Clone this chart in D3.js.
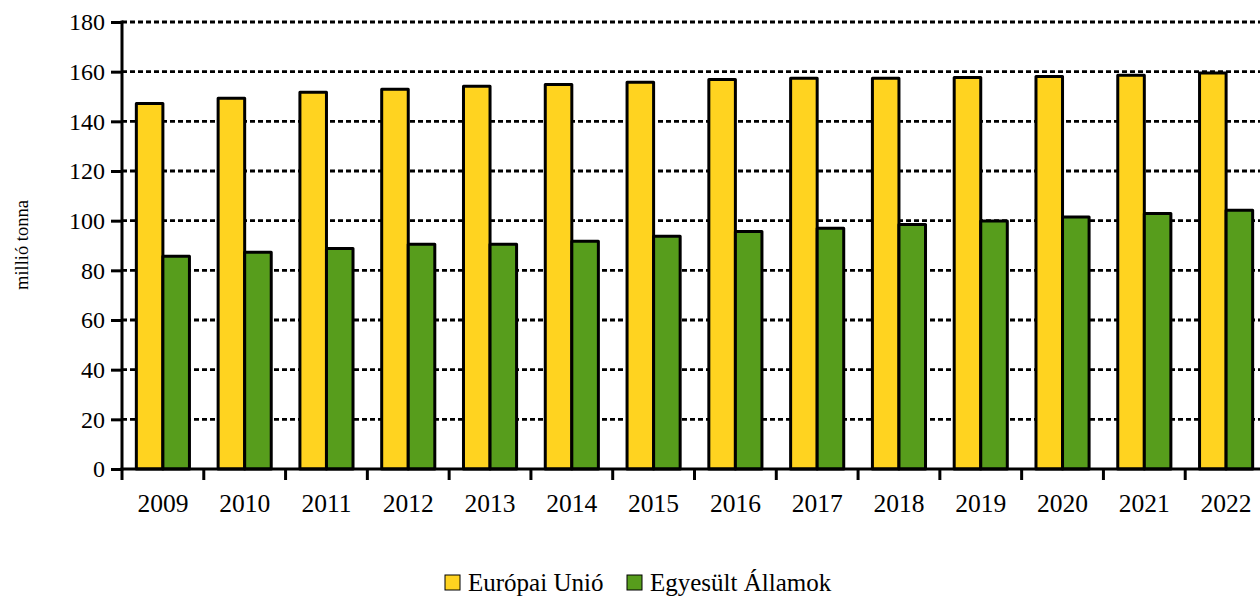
<!DOCTYPE html>
<html>
<head>
<meta charset="utf-8">
<script src="https://cdn.jsdelivr.net/npm/d3@7"></script>
<style>
  body { margin: 0; background: #fff; }
  text { font-family: "Liberation Serif", "Times New Roman", serif; fill: #000; }
</style>
</head>
<body>
<div id="chart"></div>
<script>
var years = [2009, 2010, 2011, 2012, 2013, 2014, 2015, 2016, 2017, 2018, 2019, 2020, 2021, 2022];
var seriesNames = ["Európai Unió", "Egyesült Államok"];
var euValues = [147.2, 149.3, 151.7, 152.9, 154.1, 154.8, 155.7, 156.8, 157.3, 157.3, 157.7, 158.1, 158.6, 159.5];
var usValues = [85.7, 87.3, 88.8, 90.5, 90.5, 91.7, 93.7, 95.6, 96.9, 98.5, 99.9, 101.5, 102.9, 104.2];
var yTicks = [0, 20, 40, 60, 80, 100, 120, 140, 160, 180];
var colors = ["#ffd320", "#579d1c"];

var svgWidth = 1260;
var svgHeight = 598;
var margin = {top: 22, left: 122};
var width = 1145;   // plot runs past the right edge, as in the original
var height = 447;

var svg = d3.select("#chart")
  .append("svg")
  .attr("width", svgWidth)
  .attr("height", svgHeight);

var chartGroup = svg.append("g")
  .attr("transform", `translate(${margin.left}, ${margin.top})`);

// Scales
var x0 = d3.scaleBand()
  .domain(years)
  .range([0, width])
  .padding(0);

var x1 = d3.scaleBand()
  .domain([0, 1])
  .range([0, x0.bandwidth()])
  .paddingInner(0)
  .paddingOuter(0.54);

var y = d3.scaleLinear()
  .domain([0, 180])
  .range([height, 0]);

// Dotted gridlines
chartGroup.selectAll(".grid")
  .data(yTicks.filter(d => d > 0))
  .enter()
  .append("line")
  .attr("x1", 0)
  .attr("x2", width)
  .attr("y1", d => y(d))
  .attr("y2", d => y(d))
  .attr("stroke", "#000")
  .attr("stroke-width", 2.8)
  .attr("stroke-dasharray", "5,3");

// Bars
var rows = years.map((yr, i) => ({year: yr, vals: [euValues[i], usValues[i]]}));

var groups = chartGroup.selectAll(".yearGroup")
  .data(rows)
  .enter()
  .append("g")
  .attr("transform", d => `translate(${x0(d.year)}, 0)`);

groups.selectAll("rect")
  .data(d => d.vals.map((v, k) => ({k: k, v: v})))
  .enter()
  .append("rect")
  .attr("x", d => x1(d.k))
  .attr("y", d => y(d.v))
  .attr("width", x1.bandwidth())
  .attr("height", d => height - y(d.v))
  .attr("fill", d => colors[d.k])
  .attr("stroke", "#000")
  .attr("stroke-width", 3)
  .attr("stroke-linejoin", "round");

// Y axis
var leftAxis = d3.axisLeft(y)
  .tickValues(yTicks)
  .tickSize(11)
  .tickPadding(6);

var yAxis = chartGroup.append("g")
  .call(leftAxis);

yAxis.select(".domain").remove();
yAxis.selectAll("line").attr("stroke", "#000").attr("stroke-width", 3);
yAxis.selectAll("text")
  .attr("font-size", "24px");

chartGroup.append("line")
  .attr("x1", 0).attr("x2", 0)
  .attr("y1", -1.5).attr("y2", height + 1.5)
  .attr("stroke", "#000")
  .attr("stroke-width", 3);

// X axis
var bottomAxis = d3.axisBottom(x0)
  .tickSize(0)
  .tickPadding(25);

var xAxis = chartGroup.append("g")
  .attr("transform", `translate(0, ${height})`)
  .call(bottomAxis);

xAxis.select(".domain").remove();
xAxis.selectAll("text")
  .attr("font-size", "25.5px");

// tick marks between categories
chartGroup.selectAll(".xtick")
  .data(years)
  .enter()
  .append("line")
  .attr("x1", d => x0(d))
  .attr("x2", d => x0(d))
  .attr("y1", height)
  .attr("y2", height + 11)
  .attr("stroke", "#000")
  .attr("stroke-width", 3);

chartGroup.append("line")
  .attr("x1", -1.5).attr("x2", width)
  .attr("y1", height).attr("y2", height)
  .attr("stroke", "#000")
  .attr("stroke-width", 3);

// Y axis title
svg.append("text")
  .attr("transform", "translate(28, 245) rotate(-90)")
  .attr("text-anchor", "middle")
  .attr("font-size", "18.5px")
  .text("millió tonna");

// Legend
var legendX = [445, 627];
var legend = svg.selectAll(".legend")
  .data(seriesNames)
  .enter()
  .append("g")
  .attr("transform", (d, i) => `translate(${legendX[i]}, 575)`);

legend.append("rect")
  .attr("width", 15)
  .attr("height", 15)
  .attr("fill", (d, i) => colors[i])
  .attr("stroke", "#000")
  .attr("stroke-width", 1);

legend.append("text")
  .attr("x", 23)
  .attr("y", 16)
  .attr("font-size", "25px")
  .text(d => d);
</script>
</body>
</html>
